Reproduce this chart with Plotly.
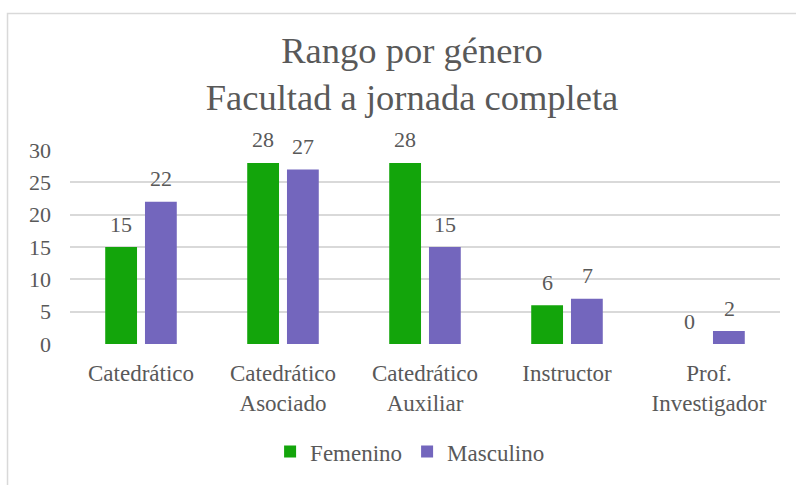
import plotly.graph_objects as go

categories = ["Catedrático", "Catedrático<br>Asociado", "Catedrático<br>Auxiliar", "Instructor", "Prof.<br>Investigador"]
femenino = [15, 28, 28, 6, 0]
masculino = [22, 27, 15, 7, 2]
series_names = ["Femenino", "Masculino"]
colors = ["#13A50B", "#7366BD"]
y_ticks = [0, 5, 10, 15, 20, 25, 30]

TEXT = "#595959"
FONT = "Liberation Serif, Times New Roman, serif"

fig = go.Figure()
for name, vals, c in zip(series_names, [femenino, masculino], colors):
    fig.add_trace(go.Bar(
        x=categories, y=vals, name=name,
        marker=dict(color=c, line=dict(width=0)),
    ))

# data labels above bars
for vals, shift in zip([femenino, masculino], [-20, 20]):
    for cat, v in zip(categories, vals):
        fig.add_annotation(
            x=cat, y=v, xref="x", yref="y", text=str(v), showarrow=False,
            xshift=shift, yshift=23, yanchor="middle",
            font=dict(family=FONT, size=22, color=TEXT),
        )

# chart border (cropped frame)
fig.add_shape(type="rect", xref="paper", yref="paper",
              x0=-0.088, x1=1.1, y0=-0.75, y1=1.703,
              line=dict(color="#d9d9d9", width=1.5), fillcolor="rgba(0,0,0,0)", layer="below")

fig.update_layout(
    width=796, height=485,
    margin=dict(l=70, r=16, t=150, b=138),
    paper_bgcolor="white", plot_bgcolor="white",
    font=dict(family=FONT, color=TEXT),
    title=dict(
        text="Rango por género<br>Facultad a jornada completa",
        x=412 / 796, xanchor="center", xref="container",
        y=1 - 63 / 485, yanchor="top", yref="container",
        font=dict(family=FONT, size=36.5, color=TEXT),
    ),
    barmode="group", bargap=0.44, bargroupgap=0.2,
    showlegend=True,
    legend=dict(
        orientation="h", x=0.479, xanchor="center", y=-0.555, yanchor="middle",
        font=dict(family=FONT, size=23, color=TEXT),
        itemwidth=30,
    ),
    xaxis=dict(
        showgrid=False, showline=False, zeroline=False, ticks="",
        tickfont=dict(family=FONT, size=23, color=TEXT),
        ticklabelstandoff=13,
    ),
    yaxis=dict(
        range=[0, 30], tickvals=y_ticks, showgrid=True, gridcolor="#d9d9d9", gridwidth=1.5,
        zeroline=False, showline=False, ticks="",
        tickfont=dict(family=FONT, size=22, color=TEXT),
        ticklabelstandoff=18,
    ),
)

fig.write_html("out.html", config={"displayModeBar": False},
               post_script="document.body.style.margin='0';")
